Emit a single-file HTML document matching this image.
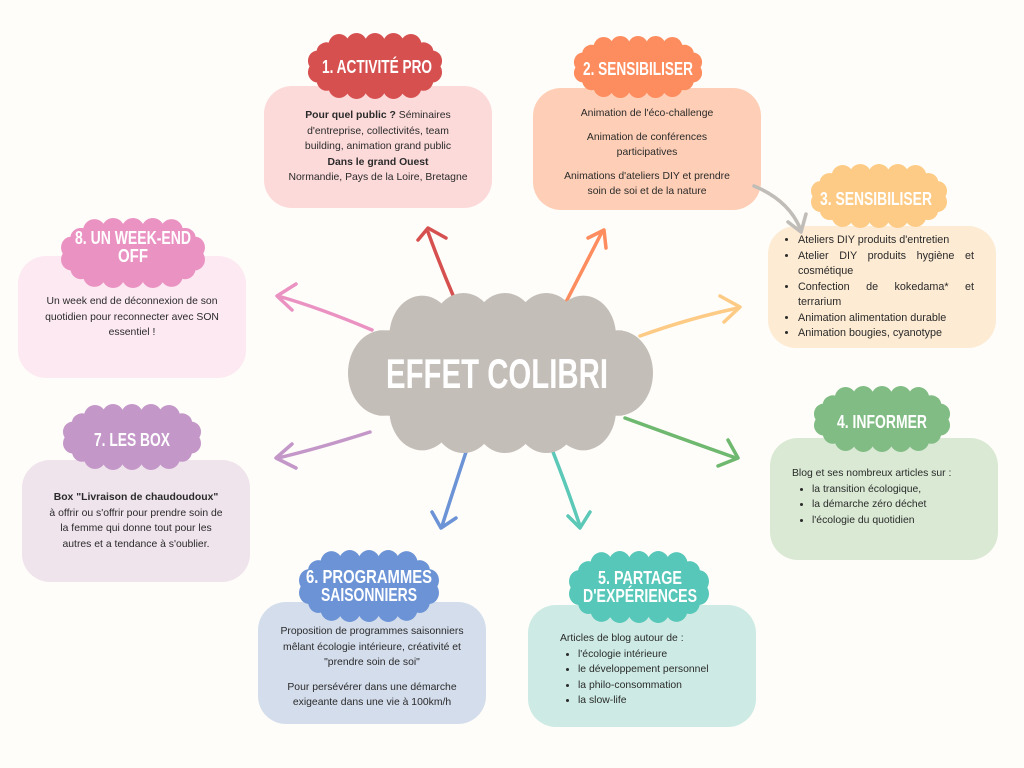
<!DOCTYPE html>
<html><head><meta charset="utf-8"><style>
body{margin:0;width:1024px;height:768px;background:#fffdf9;position:relative;overflow:hidden;font-family:"Liberation Sans",sans-serif;color:#2a2a2a}
.b{position:absolute;width:228px;height:122px;border-radius:28px;font-size:10.4px;line-height:15.5px;box-sizing:border-box;text-align:center}
.b ul{margin:0;padding-left:22px;text-align:left}
.b p{margin:0}
svg{position:absolute;left:0;top:0}
.t{font-family:"Liberation Sans Narrow","Liberation Sans",sans-serif;font-weight:bold;fill:#fff;text-anchor:middle}
</style></head><body>
<div class="b" style="left:264px;top:86px;background:#fddada;padding-top:22px"><p><b>Pour quel public ?</b> Séminaires<br>d'entreprise, collectivités, team<br>building, animation grand public<br><b>Dans le grand Ouest</b><br>Normandie, Pays de la Loire, Bretagne</p></div>
<div class="b" style="left:533px;top:88px;background:#fecfb6;padding-top:18px"><p>Animation de l'éco-challenge</p><p style="margin-top:8px">Animation de conférences<br>participatives</p><p style="margin-top:8px">Animations d'ateliers DIY et prendre<br>soin de soi et de la nature</p></div>
<div class="b" style="left:768px;top:226px;background:#fdebd3;padding:7px 22px 0 8px;font-size:10.8px"><ul style="text-align:justify"><li>Ateliers DIY produits d'entretien</li><li>Atelier DIY produits hygiène et cosmétique</li><li>Confection de kokedama* et terrarium</li><li>Animation alimentation durable</li><li>Animation bougies, cyanotype</li></ul></div>
<div class="b" style="left:770px;top:438px;background:#d9e9d4;padding:28px 0 0 22px;text-align:left"><p>Blog et ses nombreux articles sur :</p><ul style="padding-left:20px"><li>la transition écologique,</li><li>la démarche zéro déchet</li><li>l'écologie du quotidien</li></ul></div>
<div class="b" style="left:528px;top:605px;background:#cdebe4;padding:26px 0 0 32px;text-align:left"><p>Articles de blog autour de :</p><ul style="padding-left:18px"><li>l'écologie intérieure</li><li>le développement personnel</li><li>la philo-consommation</li><li>la slow-life</li></ul></div>
<div class="b" style="left:258px;top:602px;background:#d4ddec;padding-top:22px"><p>Proposition de programmes saisonniers<br>mêlant écologie intérieure, créativité et<br>"prendre soin de soi"</p><p style="margin-top:9px">Pour persévérer dans une démarche<br>exigeante dans une vie à 100km/h</p></div>
<div class="b" style="left:22px;top:460px;background:#efe3ec;padding-top:30px"><p><b>Box "Livraison de chaudoudoux"</b><br>à offrir ou s'offrir pour prendre soin de<br>la femme qui donne tout pour les<br>autres et a tendance à s'oublier.</p></div>
<div class="b" style="left:18px;top:256px;background:#fde9f2;padding-top:38px"><p>Un week end de déconnexion de son<br>quotidien pour reconnecter avec SON<br>essentiel !</p></div>
<svg width="1024" height="768" viewBox="0 0 1024 768">
<defs>
<symbol id="c" viewBox="0 0 140 60" preserveAspectRatio="none">
<circle cx="16" cy="30" r="16"/><circle cx="124" cy="30" r="16"/>
<circle cx="34" cy="16" r="15"/><circle cx="53" cy="15" r="15"/><circle cx="72" cy="15" r="15"/><circle cx="91" cy="15" r="15"/><circle cx="108" cy="16" r="15"/>
<circle cx="34" cy="44" r="15"/><circle cx="53" cy="45" r="15"/><circle cx="72" cy="45" r="15"/><circle cx="91" cy="45" r="15"/><circle cx="108" cy="44" r="15"/>
<rect x="14" y="14" width="112" height="32"/></symbol>
<symbol id="l" viewBox="0 0 140 64" preserveAspectRatio="none">
<circle cx="33" cy="12" r="11"/><circle cx="51" cy="11" r="11"/><circle cx="70" cy="11" r="11"/><circle cx="89" cy="11" r="11"/><circle cx="107" cy="12" r="11"/>
<circle cx="33" cy="52" r="11"/><circle cx="51" cy="53" r="11"/><circle cx="70" cy="53" r="11"/><circle cx="89" cy="53" r="11"/><circle cx="107" cy="52" r="11"/>
<circle cx="20" cy="19" r="10"/><circle cx="11" cy="27" r="10"/><circle cx="11" cy="38" r="10"/><circle cx="20" cy="46" r="10"/>
<circle cx="120" cy="19" r="10"/><circle cx="129" cy="27" r="10"/><circle cx="129" cy="38" r="10"/><circle cx="120" cy="46" r="10"/>
<rect x="10" y="10" width="120" height="44" rx="8"/></symbol>
</defs>
<g fill="none" stroke-width="3.5" stroke-linecap="round" stroke-linejoin="round">
<g stroke="#d65050"><path d="M455 300 Q440 265 428 232"/><path d="M418 240 L428 228 L446 238"/></g>
<g stroke="#fd8c5e"><path d="M566 302 Q585 265 602 232"/><path d="M588 238 L604 230 L606 248"/></g>
<g stroke="#fdcb85"><path d="M640 336 Q690 318 738 308"/><path d="M720 296 L740 307 L724 322"/></g>
<g stroke="#6fb86f"><path d="M625 418 Q685 440 736 458"/><path d="M728 440 L738 458 L718 466"/></g>
<g stroke="#5bc8b8"><path d="M553 452 Q568 490 580 526"/><path d="M568 516 L580 528 L590 512"/></g>
<g stroke="#6b93d6"><path d="M470 440 Q455 485 442 526"/><path d="M432 512 L441 528 L456 518"/></g>
<g stroke="#c497c9"><path d="M370 432 Q320 448 278 458"/><path d="M292 444 L276 458 L296 468"/></g>
<g stroke="#ea93c3"><path d="M372 330 Q320 308 278 296"/><path d="M296 284 L277 296 L292 310"/></g>
<g stroke="#c0bcb8"><path d="M754 186 Q788 200 800 228"/><path d="M788 222 L801 232 L806 214"/></g>
</g>
<use href="#c" x="348" y="293" width="305" height="160" fill="#c4beb9"/>
<text class="t" x="497" y="388" font-size="42" textLength="222" lengthAdjust="spacingAndGlyphs">EFFET COLIBRI</text>
<use href="#l" x="307" y="33" width="136" height="66" fill="#d65050"/>
<text class="t" x="377" y="73" font-size="18" textLength="110" lengthAdjust="spacingAndGlyphs">1. ACTIVITÉ PRO</text>
<use href="#l" x="573" y="36" width="130" height="62" fill="#fd8c5e"/>
<text class="t" x="638" y="75" font-size="18" textLength="110" lengthAdjust="spacingAndGlyphs">2. SENSIBILISER</text>
<use href="#l" x="810" y="164" width="138" height="64" fill="#fdcb85"/>
<text class="t" x="876" y="205" font-size="18" textLength="112" lengthAdjust="spacingAndGlyphs">3. SENSIBILISER</text>
<use href="#l" x="813" y="386" width="138" height="66" fill="#80bc84"/>
<text class="t" x="882" y="428" font-size="18" textLength="90" lengthAdjust="spacingAndGlyphs">4. INFORMER</text>
<use href="#l" x="568" y="551" width="142" height="72" fill="#56c7b8"/>
<text class="t" x="640" y="584" font-size="18" textLength="84" lengthAdjust="spacingAndGlyphs">5. PARTAGE</text>
<text class="t" x="640" y="602" font-size="18" textLength="114" lengthAdjust="spacingAndGlyphs">D'EXPÉRIENCES</text>
<use href="#l" x="298" y="550" width="142" height="72" fill="#6b93d6"/>
<text class="t" x="369" y="583" font-size="18" textLength="126" lengthAdjust="spacingAndGlyphs">6. PROGRAMMES</text>
<text class="t" x="369" y="601" font-size="18" textLength="96" lengthAdjust="spacingAndGlyphs">SAISONNIERS</text>
<use href="#l" x="62" y="404" width="140" height="66" fill="#c497c9"/>
<text class="t" x="132" y="446" font-size="18" textLength="76" lengthAdjust="spacingAndGlyphs">7. LES BOX</text>
<use href="#l" x="60" y="218" width="146" height="70" fill="#ea93c3"/>
<text class="t" x="133" y="244" font-size="18" textLength="116" lengthAdjust="spacingAndGlyphs">8. UN WEEK-END</text>
<text class="t" x="133" y="262" font-size="18" textLength="30" lengthAdjust="spacingAndGlyphs">OFF</text>
</svg>
</body></html>
